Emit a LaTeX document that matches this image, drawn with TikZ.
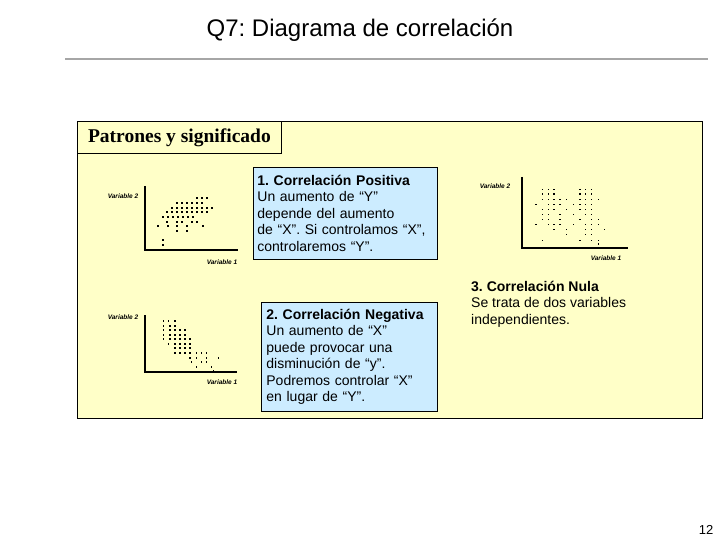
\documentclass[tikz,border=0pt]{standalone}
\usepackage{fontspec}
\setmainfont{Liberation Sans}
\newfontfamily\serifb{Liberation Serif}
\newcommand\bfnt{\fontsize{14}{16.5}\selectfont}
\begin{document}
\frenchspacing
\begin{tikzpicture}[x=1pt,y=-1pt,
  txt/.style={font=\bfnt,align=left,inner sep=0pt},
  bluebox/.style={draw=black,fill=boxblue,line width=0.8pt,anchor=north west,inner sep=5pt,align=left,font=\bfnt},
  tiny/.style={font=\fontsize{6.5}{7}\selectfont\bfseries\itshape,inner sep=0pt},
  axis/.style={line width=1.3pt},
  dot/.style={fill=black}]
\definecolor{panel}{RGB}{255,255,200}
\definecolor{boxblue}{RGB}{204,236,255}
\useasboundingbox (0,0) rectangle (720,540);
\fill[white] (0,0) rectangle (720,540);
\node[font=\fontsize{24}{28}\selectfont] (title) at (360,30) {Q7: Diagrama de correlación};
\draw[line width=2.5pt,gray!70] (65,59) -- (708,59);
\node[draw=black,fill=panel,line width=0.8pt,anchor=north west,minimum width=625,minimum height=297,inner sep=0pt] (panelbox) at (77,121) {};
\node[draw=black,fill=panel,line width=0.8pt,anchor=north west,minimum width=204,minimum height=32,inner sep=0pt,font=\serifb\fontsize{19.5}{22}\selectfont\bfseries] (hdr) at (77,121) {Patrones y significado};
% boxes
\node[bluebox,text width=176,minimum height=92,inner sep=4pt] (b1) at (253,167) {\bfnt\textbf{1. Correlación Positiva}\\\bfnt Un aumento de “Y”\\\bfnt depende del aumento\\\bfnt de “X”. Si controlamos “X”,\\\bfnt controlaremos “Y”.};
\node[bluebox,text width=166,minimum height=109] (b2) at (261,302) {\bfnt\textbf{2. Correlación Negativa}\\\bfnt Un aumento de “X”\\\bfnt puede provocar una\\\bfnt disminución de “y”.\\\bfnt Podremos controlar “X”\\\bfnt en lugar de “Y”.};
\node[txt,anchor=north west] (b3) at (471,281) {\bfnt\textbf{3. Correlación Nula}\\\bfnt Se trata de dos variables\\\bfnt independientes.};
\node[font=\fontsize{13}{14}\selectfont] (pg) at (706,530) {12};
% plot 1
\coordinate (p1t) at (145,186); \coordinate (p1o) at (145,250); \coordinate (p1r) at (238,250);
\draw[axis] (p1t) -- (p1o) -- (p1r);
\node[tiny] (p1y) at (123,196) {Variable 2};
\node[tiny] (p1x) at (222,262) {Variable 1};
\foreach \y/\xs in {198/{197,202,207},203/{177,182,187,192,197,202},208/{172,177,182,187,192,197,202,207,212},212/{167,172,177,182,187,192,197,202,207},217/{163,168,173,178,183,188,193},222/{167,177,182,192,197},226/{158,168,177,187,203},231/{177,187},240/{163},245/{163}}
  \foreach \x in \xs \fill[dot] (\x-0.8,\y-0.8) rectangle (\x+0.8,\y+0.8);
% plot 2
\coordinate (p2t) at (145,315); \coordinate (p2o) at (145,372); \coordinate (p2r) at (237,372);
\draw[axis] (p2t) -- (p2o) -- (p2r);
\node[tiny] (p2y) at (123,317) {Variable 2};
\node[tiny] (p2x) at (222,382) {Variable 1};
\foreach \y/\xs in {321/{190,205,225},326/{190,210,225},330/{190,210,225,240,255},335/{190,210,225,240,255},339/{190,210,225,240,255,270},344/{205,225,240,255,270},348/{225,240,255,270},353/{225,240,255,270,290,305,320},358/{270,290,320,355},362/{275,305,320},367/{290,335},371/{340}}
  \foreach \x in \xs \fill[dot] (100+\x/3-0.8,\y-0.8) rectangle (100+\x/3+0.8,\y+0.8);
% plot 3
\coordinate (p3t) at (522,177); \coordinate (p3o) at (522,248); \coordinate (p3r) at (628,248);
\draw[axis] (p3t) -- (p3o) -- (p3r);
\node[tiny] (p3y) at (495,186) {Variable 2};
\node[tiny] (p3x) at (606,258) {Variable 1};
\foreach \zy/\xs in {58/{218,235,252,330,347,365},72/{218,235,252,330,347,365},88/{218,235,252,270,290,330,347,365,385},103/{198,235,252,270,310,330,347,365},118/{218,235,252,290,330,347,365},133/{218,235,270,310,347,365},148/{218,235,270,330,365,385},163/{198,235,252,270,310,347,365,385},178/{252,290,347,365,403},193/{290,347,365},212/{218,330,365,385},222/{385}}
  \foreach \x in \xs \fill[dot] (470+\x/3-0.8,170+\zy/3-0.8) rectangle (470+\x/3+0.8,170+\zy/3+0.8);
\end{tikzpicture}
\end{document}
